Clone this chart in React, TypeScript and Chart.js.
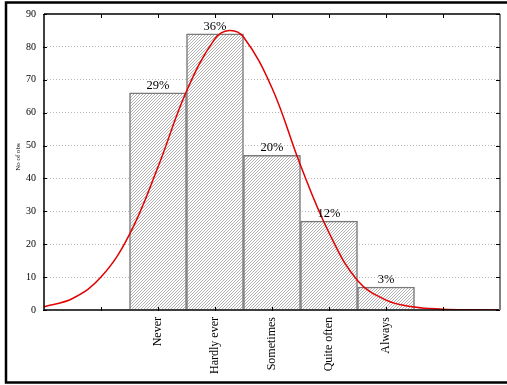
import React, { useEffect, useRef } from "react";
import { Chart, registerables } from "chart.js";

Chart.register(...registerables);

// Categories sit at x = 2..6 on a 0..8 axis
const categories = ["Never", "Hardly ever", "Sometimes", "Quite often", "Always"];
const categoryX = [2, 3, 4, 5, 6];
const counts = [66, 84, 47, 27, 7];
const percents = ["29%", "36%", "20%", "12%", "3%"];

// Fitted curve
const curveX = [0, 0.5, 1, 1.5, 2, 2.5, 3, 3.25, 3.5, 4, 4.5, 5, 5.5, 6, 6.5, 7, 7.5, 8];
const curveY = [1.0, 3.5, 10, 23, 43.5, 66.5, 82.5, 85, 83, 67.5, 44, 23.5, 9, 3, 0.9, 0.25, 0.05, 0.01];

const yTicks = [0, 10, 20, 30, 40, 50, 60, 70, 80, 90];
const xTickValues = [1, 2, 3, 4, 5, 6, 7];

const FONT = "'Liberation Serif', 'DejaVu Serif', serif";

function makeHatch(): CanvasPattern | string {
  const c = document.createElement("canvas");
  c.width = 3;
  c.height = 3;
  const g = c.getContext("2d");
  if (!g) return "#ccc";
  g.fillStyle = "#ffffff";
  g.fillRect(0, 0, 3, 3);
  g.strokeStyle = "#a8a8a8";
  g.lineWidth = 0.9;
  g.beginPath();
  g.moveTo(0, 3);
  g.lineTo(3, 0);
  g.moveTo(-1, 1);
  g.lineTo(1, -1);
  g.moveTo(2, 4);
  g.lineTo(4, 2);
  g.stroke();
  const p = g.createPattern(c, "repeat");
  return p || "#ccc";
}

const decorPlugin = {
  id: "decor",
  afterDatasetsDraw(chart: any) {
    const ctx = chart.ctx;
    const { left, right, top, bottom } = chart.chartArea;
    const xs = chart.scales.x;
    const ys = chart.scales.y;
    ctx.save();
    // percent labels
    ctx.fillStyle = "#000";
    ctx.font = `12.5px ${FONT}`;
    ctx.textAlign = "center";
    ctx.textBaseline = "bottom";
    categoryX.forEach((cx, i) => {
      ctx.fillText(percents[i], xs.getPixelForValue(cx), ys.getPixelForValue(counts[i]) - 1);
    });
    // axes
    ctx.lineWidth = 1.5;
    ctx.strokeStyle = "#000";
    ctx.beginPath();
    ctx.moveTo(left, top);
    ctx.lineTo(left, bottom);
    ctx.lineTo(right, bottom);
    ctx.moveTo(left, top);
    ctx.lineTo(right, top);
    ctx.stroke();
    ctx.strokeStyle = "#808080";
    ctx.lineWidth = 2;
    ctx.beginPath();
    ctx.moveTo(right, top);
    ctx.lineTo(right, bottom);
    ctx.stroke();
    // inside tick marks
    ctx.strokeStyle = "#000";
    ctx.lineWidth = 1;
    ctx.beginPath();
    yTicks.forEach((v) => {
      const py = Math.round(ys.getPixelForValue(v)) + 0.5;
      ctx.moveTo(left - 1, py);
      ctx.lineTo(left + 3, py);
      ctx.moveTo(right - 4, py);
      ctx.lineTo(right, py);
    });
    xTickValues.forEach((v) => {
      const px = Math.round(xs.getPixelForValue(v)) + 0.5;
      ctx.moveTo(px, top);
      ctx.lineTo(px, top + 4);
      ctx.moveTo(px, bottom - 3);
      ctx.lineTo(px, bottom + 1);
    });
    ctx.stroke();
    // y title
    ctx.save();
    ctx.translate(18, 157);
    ctx.rotate(-Math.PI / 2);
    ctx.font = `7px ${FONT}`;
    ctx.textAlign = "center";
    ctx.textBaseline = "middle";
    ctx.fillStyle = "#000";
    ctx.fillText("No of obs", 0, 0);
    ctx.restore();
    // outer frame
    ctx.strokeStyle = "#000";
    ctx.lineWidth = 2.5;
    ctx.strokeRect(6, 2.5, 520, 380);
    ctx.restore();
  },
};

export default function App() {
  const ref = useRef<HTMLCanvasElement | null>(null);
  useEffect(() => {
    document.body.style.margin = "0";
    const canvas = ref.current;
    if (!canvas) return;
    const hatch = makeHatch();
    const chart = new Chart(canvas, {
      type: "bar",
      data: {
        datasets: [
          {
            type: "line",
            data: curveX.map((x, i) => ({ x, y: curveY[i] })),
            borderColor: "#e00000",
            borderWidth: 1.5,
            pointRadius: 0,
            tension: 0.4,
            fill: false,
          } as any,
          {
            type: "bar",
            data: categoryX.map((x, i) => ({ x, y: counts[i] })),
            backgroundColor: hatch as any,
            borderColor: "#7a7a7a",
            borderWidth: 1.5,
            borderSkipped: "bottom",
            barPercentage: 1,
            categoryPercentage: 1,
          } as any,
        ],
      },
      options: {
        responsive: false,
        animation: false,
        layout: { padding: { top: 14, right: 7, left: 0, bottom: 0 } },
        plugins: { legend: { display: false }, tooltip: { enabled: false } },
        scales: {
          x: {
            type: "linear",
            offset: false,
            min: 0,
            max: 8,
            afterFit: (s: any) => {
              s.height = 75;
            },
            afterBuildTicks: (s: any) => {
              s.ticks = xTickValues.map((v) => ({ value: v }));
            },
            grid: { display: false, drawTicks: false, offset: false },
            border: { display: false },
            ticks: {
              autoSkip: false,
              minRotation: 90,
              maxRotation: 90,
              padding: 7,
              color: "#000",
              font: { family: FONT, size: 12 },
              callback: (v: any) => {
                const idx = categoryX.indexOf(Number(v));
                return idx >= 0 ? categories[idx] : "";
              },
            },
          },
          y: {
            type: "linear",
            min: 0,
            max: 90,
            afterFit: (s: any) => {
              s.width = 44;
            },
            afterBuildTicks: (s: any) => {
              s.ticks = yTicks.map((v) => ({ value: v }));
            },
            grid: {
              drawTicks: false,
              color: (c: any) =>
                c.tick && (c.tick.value === 0 || c.tick.value === 90) ? "rgba(0,0,0,0)" : "#b8b8b8",
              lineWidth: 1,
            },
            border: { display: false, dash: [1, 2] },
            ticks: {
              padding: 8,
              color: "#000",
              font: { family: FONT, size: 10 },
            },
          },
        },
      } as any,
      plugins: [decorPlugin],
    });
    return () => chart.destroy();
  }, []);
  return (
    <div style={{ width: 507, height: 385, background: "#fff" }}>
      <canvas ref={ref} width={507} height={385} style={{ display: "block" }} />
    </div>
  );
}
